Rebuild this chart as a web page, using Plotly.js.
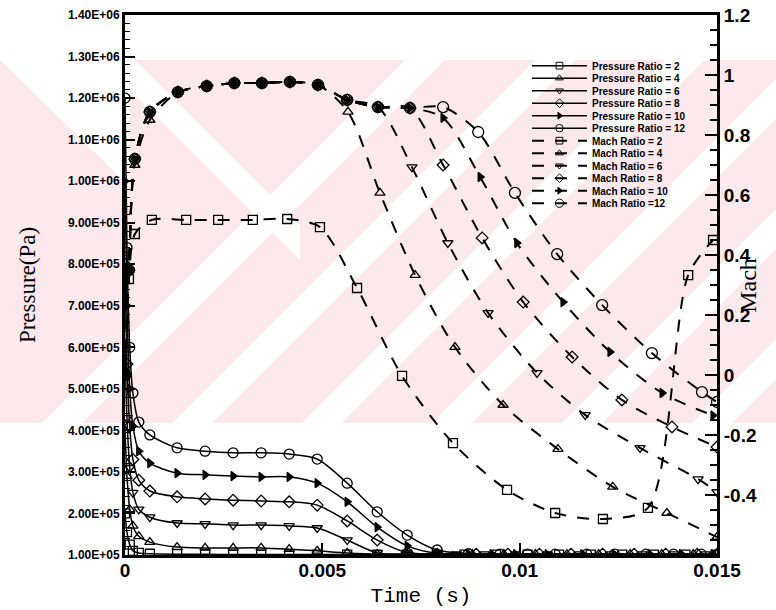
<!DOCTYPE html>
<html>
<head>
<meta charset="utf-8">
<script src="https://cdn.plot.ly/plotly-3.0.1.min.js"></script>
<style>
  html, body { margin: 0; padding: 0; background: #fff; }
  #chart { width: 776px; height: 610px; }
</style>
</head>
<body>
<div id="chart"></div>
<script>
// ---- Pressure histories (Pa): shared early samples, then each run's own late samples ----
const tPressureHead = [0, 0.00005, 0.00012, 0.0002, 0.00035, 0.00063, 0.00132, 0.00203, 0.00274, 0.00345,
  0.00416, 0.00487, 0.00563, 0.00639, 0.00715, 0.00791];
const pressureRatio2Head  = [2.0e5, 1.55e5, 1.25e5, 1.10e5, 1.05e5, 1.03e5, 1.02e5, 1.02e5, 1.01e5, 1.01e5,
  1.01e5, 1.01e5, 1.01e5, 1.01e5, 1.01e5, 1.01e5];
const pressureRatio4Head  = [4.0e5, 2.9e5, 2.1e5, 1.70e5, 1.45e5, 1.31e5, 1.19e5, 1.17e5, 1.17e5, 1.17e5,
  1.14e5, 1.10e5, 1.05e5, 1.02e5, 1.02e5, 1.02e5];
const pressureRatio6Head  = [6.0e5, 4.3e5, 3.1e5, 2.5e5, 2.1e5, 1.91e5, 1.77e5, 1.75e5, 1.72e5, 1.72e5,
  1.70e5, 1.65e5, 1.36e5, 1.05e5, 1.02e5, 1.02e5];
const pressureRatio8Head  = [8.0e5, 5.6e5, 4.1e5, 3.3e5, 2.8e5, 2.54e5, 2.40e5, 2.35e5, 2.32e5, 2.30e5,
  2.28e5, 2.20e5, 1.82e5, 1.36e5, 1.06e5, 1.02e5];
const pressureRatio10Head = [1.0e6, 7.0e5, 5.0e5, 4.1e5, 3.5e5, 3.21e5, 2.97e5, 2.93e5, 2.90e5, 2.88e5,
  2.88e5, 2.73e5, 2.28e5, 1.67e5, 1.22e5, 1.04e5];
const pressureRatio12Head = [1.2e6, 8.4e5, 6.0e5, 4.9e5, 4.2e5, 3.89e5, 3.58e5, 3.50e5, 3.46e5, 3.46e5,
  3.43e5, 3.31e5, 2.73e5, 2.04e5, 1.48e5, 1.12e5];

// late samples (all settled near ambient pressure)
const tTail2  = [0.0086, 0.0094, 0.0102, 0.011, 0.0118, 0.0126, 0.0134, 0.0142, 0.015];
const pTail2  = [1.01e5, 1.01e5, 1.01e5, 1.01e5, 1.01e5, 1.01e5, 1.01e5, 1.01e5, 1.01e5];
const tTail4  = [0.0088, 0.0096, 0.0104, 0.0112, 0.012, 0.0128, 0.0136, 0.0144, 0.015];
const pTail4  = [1.02e5, 1.02e5, 1.02e5, 1.02e5, 1.02e5, 1.02e5, 1.02e5, 1.02e5, 1.02e5];
const tTail6  = [0.0084, 0.0091, 0.0099, 0.0107, 0.0115, 0.0123, 0.0131, 0.0139, 0.0147];
const pTail6  = [1.02e5, 1.02e5, 1.02e5, 1.02e5, 1.02e5, 1.02e5, 1.02e5, 1.02e5, 1.02e5];
const tTail8  = [0.0089, 0.0097, 0.0105, 0.0113, 0.0121, 0.0129, 0.0137, 0.0145, 0.015];
const pTail8  = [1.02e5, 1.02e5, 1.02e5, 1.02e5, 1.02e5, 1.02e5, 1.02e5, 1.02e5, 1.02e5];
const tTail10 = [0.0087, 0.0093, 0.0099, 0.0107, 0.0116, 0.0124, 0.0133, 0.0141, 0.0149];
const pTail10 = [1.02e5, 1.02e5, 1.02e5, 1.02e5, 1.02e5, 1.02e5, 1.02e5, 1.02e5, 1.02e5];
const tTail12 = [0.0087, 0.0095, 0.0102, 0.0109, 0.0117, 0.0124, 0.0132, 0.0139, 0.0146];
const pTail12 = [1.03e5, 1.02e5, 1.02e5, 1.02e5, 1.02e5, 1.02e5, 1.02e5, 1.02e5, 1.02e5];

// ---- Mach number histories ----
const tMach2 = [0, 0.0001, 0.00025, 0.00068, 0.00155, 0.00236, 0.00324, 0.00411, 0.00494, 0.00588,
  0.00702, 0.00831, 0.00968, 0.0109, 0.01211, 0.01325, 0.01427, 0.0149];
const mach2  = [0, 0.32, 0.47, 0.517, 0.517, 0.517, 0.517, 0.52, 0.493, 0.29,
  -0.003, -0.227, -0.383, -0.46, -0.48, -0.443, 0.333, 0.45];

const tMach4 = [0, 0.0001, 0.00025, 0.00063, 0.00134, 0.00207, 0.00277, 0.00347, 0.00418, 0.00489,
  0.00565, 0.00646, 0.00735, 0.00836, 0.00958, 0.01097, 0.01236, 0.01373, 0.015];
const mach4  = [0, 0.35, 0.70, 0.85, 0.943, 0.963, 0.973, 0.973, 0.977, 0.967,
  0.877, 0.607, 0.333, 0.093, -0.10, -0.247, -0.373, -0.46, -0.54];

const tMach6 = [0, 0.0001, 0.00025, 0.00063, 0.00134, 0.00207, 0.00277, 0.00347, 0.00418, 0.00489,
  0.00563, 0.00641, 0.00727, 0.00818, 0.0092, 0.01044, 0.01166, 0.01305, 0.01452, 0.015];
const mach6  = [0, 0.35, 0.72, 0.877, 0.943, 0.963, 0.973, 0.973, 0.977, 0.967,
  0.917, 0.893, 0.693, 0.44, 0.207, 0.007, -0.133, -0.243, -0.347, -0.39];

const tMach8 = [0, 0.0001, 0.00025, 0.00063, 0.00134, 0.00207, 0.00277, 0.00347, 0.00418, 0.00489,
  0.00563, 0.00641, 0.00722, 0.00806, 0.00905, 0.01009, 0.01133, 0.01259, 0.01386, 0.015];
const mach8  = [0, 0.35, 0.72, 0.877, 0.943, 0.963, 0.973, 0.973, 0.977, 0.967,
  0.917, 0.893, 0.89, 0.70, 0.457, 0.243, 0.06, -0.083, -0.173, -0.24];

const tMach10 = [0, 0.0001, 0.00025, 0.00063, 0.00134, 0.00207, 0.00277, 0.00347, 0.00418, 0.00489,
  0.00563, 0.00641, 0.00722, 0.00806, 0.009, 0.00993, 0.0111, 0.01229, 0.01361, 0.0149];
const mach10 = [0, 0.35, 0.72, 0.877, 0.943, 0.963, 0.973, 0.973, 0.977, 0.967,
  0.917, 0.893, 0.89, 0.857, 0.66, 0.44, 0.243, 0.077, -0.06, -0.135];

const tMach12 = [0, 0.0001, 0.00025, 0.00063, 0.00134, 0.00207, 0.00277, 0.00347, 0.00418, 0.00489,
  0.00563, 0.00641, 0.00722, 0.00806, 0.00895, 0.00988, 0.01095, 0.01209, 0.01335, 0.01462, 0.015];
const mach12 = [0, 0.35, 0.72, 0.877, 0.943, 0.963, 0.973, 0.973, 0.977, 0.967,
  0.917, 0.893, 0.89, 0.893, 0.81, 0.607, 0.403, 0.233, 0.073, -0.057, -0.09];

// ---- Axis ticks ----
const timeTicks = [0, 0.005, 0.01, 0.015];
const timeTickText = ['0', '0.005', '0.01', '0.015'];
const pressureTicks = [1e5, 2e5, 3e5, 4e5, 5e5, 6e5, 7e5, 8e5, 9e5, 1e6, 1.1e6, 1.2e6, 1.3e6, 1.4e6];
const pressureTickText = ['1.00E+05', '2.00E+05', '3.00E+05', '4.00E+05', '5.00E+05', '6.00E+05', '7.00E+05',
  '8.00E+05', '9.00E+05', '1.00E+06', '1.10E+06', '1.20E+06', '1.30E+06', '1.40E+06'];
const machTicks = [-0.4, -0.2, 0, 0.2, 0.4, 0.6, 0.8, 1, 1.2];
const machTickText = ['-0.4', '-0.2', '0', '0.2', '0.4', '0.6', '0.8', '1', '1.2'];

const SANS = 'Liberation Sans, Arial, sans-serif';
const SERIF = 'Liberation Serif, Times New Roman, serif';
const MONO = 'Liberation Mono, Courier New, monospace';
const LEGEND_ROW = 12.5;      // compact legend row pitch (px)
const LEGEND_SYMBOL_SCALE = 0.75;

// ---- Page geometry (px) used for the faint background stripes ----
const FIG_W = 776, FIG_H = 610;
const M = { l: 125, r: 59, t: 15, b: 55 };
const PLOT_W = FIG_W - M.l - M.r, PLOT_H = FIG_H - M.t - M.b;
const px = x => (x - M.l) / PLOT_W;          // page x (px) -> paper x
const py = y => (FIG_H - M.b - y) / PLOT_H;  // page y (px) -> paper y
const BAND_TOP = 60, BAND_BOTTOM = 423;
const PINK = '#fce9ee';

function polygon(points, color) {
  const d = points.map((p, i) => (i ? 'L' : 'M') + px(p[0]).toFixed(4) + ',' + py(p[1]).toFixed(4)).join(' ') + ' Z';
  return { type: 'path', xref: 'paper', yref: 'paper', path: d, fillcolor: color, line: { width: 0 }, layer: 'below' };
}
// rising ("/") white gap between x + y = c0 and x + y = c1
function risingGap(c0, c1) {
  return polygon([[c0 - BAND_BOTTOM, BAND_BOTTOM], [c1 - BAND_BOTTOM, BAND_BOTTOM],
                  [c1 - BAND_TOP, BAND_TOP], [c0 - BAND_TOP, BAND_TOP]], '#fff');
}
// falling ("\") white gap between y - x = d0 and y - x = d1, limited to x <= xMax
function fallingGap(d0, d1, xMax) {
  return polygon([[BAND_TOP - d1, BAND_TOP], [BAND_TOP - d0, BAND_TOP],
                  [xMax, xMax + d0], [xMax, xMax + d1]], '#fff');
}
const backgroundShapes = [
  polygon([[0, BAND_TOP], [FIG_W, BAND_TOP], [FIG_W, BAND_BOTTOM], [0, BAND_BOTTOM]], PINK),
  polygon([[0, BAND_TOP], [130, BAND_TOP], [130, 187]], '#fff'),
  fallingGap(-75, -40, 300),
  risingGap(465, 505), risingGap(595, 635), risingGap(725, 765),
  risingGap(855, 895), risingGap(985, 1025), risingGap(1115, 1155)
];

function pressureTrace(name, tHead, pHead, tTail, pTail, symbol) {
  return {
    x: tHead.concat(tTail), y: pHead.concat(pTail), name: name, type: 'scatter', mode: 'lines+markers',
    yaxis: 'y',
    line: { color: '#000', width: 1.5, shape: 'spline', smoothing: 0.8 },
    marker: { symbol: symbol, size: symbol === 'circle-open' ? 10 : (symbol === 'triangle-right' ? 8 : 9),
              color: '#000', line: { color: '#000', width: 1.3 } }
  };
}
function machTrace(name, x, y, symbol) {
  return {
    x: x, y: y, name: name, type: 'scatter', mode: 'lines+markers',
    yaxis: 'y2',
    line: { color: '#000', width: 2, dash: '12px,11px', shape: 'spline', smoothing: 0.8 },
    marker: { symbol: symbol, size: symbol === 'circle-open' ? 11 : (symbol === 'triangle-right' ? 8 : 9),
              color: '#000', line: { color: '#000', width: 1.3 } }
  };
}

const data = [
  pressureTrace('Pressure Ratio = 2', tPressureHead, pressureRatio2Head, tTail2, pTail2, 'square-open'),
  pressureTrace('Pressure Ratio = 4', tPressureHead, pressureRatio4Head, tTail4, pTail4, 'triangle-up-open'),
  pressureTrace('Pressure Ratio = 6', tPressureHead, pressureRatio6Head, tTail6, pTail6, 'triangle-down-open'),
  pressureTrace('Pressure Ratio = 8', tPressureHead, pressureRatio8Head, tTail8, pTail8, 'diamond-open'),
  pressureTrace('Pressure Ratio = 10', tPressureHead, pressureRatio10Head, tTail10, pTail10, 'triangle-right'),
  pressureTrace('Pressure Ratio = 12', tPressureHead, pressureRatio12Head, tTail12, pTail12, 'circle-open'),
  machTrace('Mach Ratio = 2', tMach2, mach2, 'square-open'),
  machTrace('Mach Ratio = 4', tMach4, mach4, 'triangle-up-open'),
  machTrace('Mach Ratio = 6', tMach6, mach6, 'triangle-down-open'),
  machTrace('Mach Ratio = 8', tMach8, mach8, 'diamond-open'),
  machTrace('Mach Ratio = 10', tMach10, mach10, 'triangle-right'),
  machTrace('Mach Ratio =12', tMach12, mach12, 'circle-open')
];

const layout = {
  width: FIG_W, height: FIG_H,
  margin: M,
  paper_bgcolor: '#fff', plot_bgcolor: 'rgba(0,0,0,0)',
  showlegend: true,
  legend: {
    x: 0.679, y: 0.933, xanchor: 'left', yanchor: 'top',
    bgcolor: 'rgba(0,0,0,0)', borderwidth: 0,
    itemwidth: 55,
    font: { family: SANS, size: 10, weight: 700, color: '#000' }
  },
  xaxis: {
    range: [0, 0.015], tickmode: 'array', tickvals: timeTicks, ticktext: timeTickText,
    ticks: 'inside', ticklen: 12, tickwidth: 2, tickcolor: '#000',
    ticklabelstandoff: -4,
    showline: true, linewidth: 3, linecolor: '#000', mirror: true,
    showgrid: false, zeroline: false,
    tickfont: { family: SANS, size: 19, weight: 700, color: '#000' },
    title: { text: 'Time (s)', font: { family: MONO, size: 21, color: '#000' }, standoff: 8 }
  },
  yaxis: {
    range: [1e5, 1.4e6], tickmode: 'array', tickvals: pressureTicks, ticktext: pressureTickText,
    ticks: 'inside', ticklen: 10, tickwidth: 2, tickcolor: '#000',
    minor: { tickmode: 'linear', tick0: 1e5, dtick: 2e4, ticks: 'inside', ticklen: 5, tickwidth: 1, tickcolor: '#000' },
    showline: true, linewidth: 3, linecolor: '#000',
    showgrid: false, zeroline: false,
    tickfont: { family: SANS, size: 12, weight: 700, color: '#000' },
    title: { text: 'Pressure(Pa)', font: { family: SERIF, size: 23, color: '#000' }, standoff: 26 }
  },
  yaxis2: {
    range: [-0.6, 1.2], overlaying: 'y', side: 'right',
    tickmode: 'array', tickvals: machTicks, ticktext: machTickText,
    ticks: 'inside', ticklen: 12, tickwidth: 2, tickcolor: '#000',
    minor: { tickmode: 'linear', tick0: 0, dtick: 0.05, ticks: 'inside', ticklen: 7, tickwidth: 1.5, tickcolor: '#000' },
    showline: true, linewidth: 3, linecolor: '#000',
    showgrid: false, zeroline: false,
    tickfont: { family: SANS, size: 19, weight: 700, color: '#000' }
  },
  shapes: backgroundShapes,
  annotations: [{
    text: 'Mach', xref: 'paper', yref: 'paper', x: 1.052, y: 0.5,
    xanchor: 'center', yanchor: 'middle',
    textangle: -90, showarrow: false,
    font: { family: SERIF, size: 24, color: '#000' }
  }]
};

Plotly.newPlot('chart', data, layout, { displayModeBar: false, staticPlot: true }).then(gd => {
  // Pack the legend rows tighter than Plotly's default pitch and shrink their symbols.
  const items = Array.from(gd.querySelectorAll('.legend .traces'));
  if (!items.length) return;
  const textTop = g => (g.querySelector('.legendtext') || g).getBoundingClientRect().top;
  const top0 = textTop(items[0]);
  items.forEach((g, i) => {
    const m = /translate\(\s*([-\d.e]+)[ ,]+([-\d.e]+)\s*\)/.exec(g.getAttribute('transform') || '');
    if (!m) return;
    const shift = top0 + i * LEGEND_ROW - textTop(g);
    g.setAttribute('transform', 'translate(' + m[1] + ',' + (parseFloat(m[2]) + shift) + ')');
  });
  gd.querySelectorAll('.legend .legendpoints path.scatterpts').forEach(p => {
    const t = p.getAttribute('transform') || '';
    p.setAttribute('transform', t + ' scale(' + LEGEND_SYMBOL_SCALE + ')');
  });
});
</script>
</body>
</html>
